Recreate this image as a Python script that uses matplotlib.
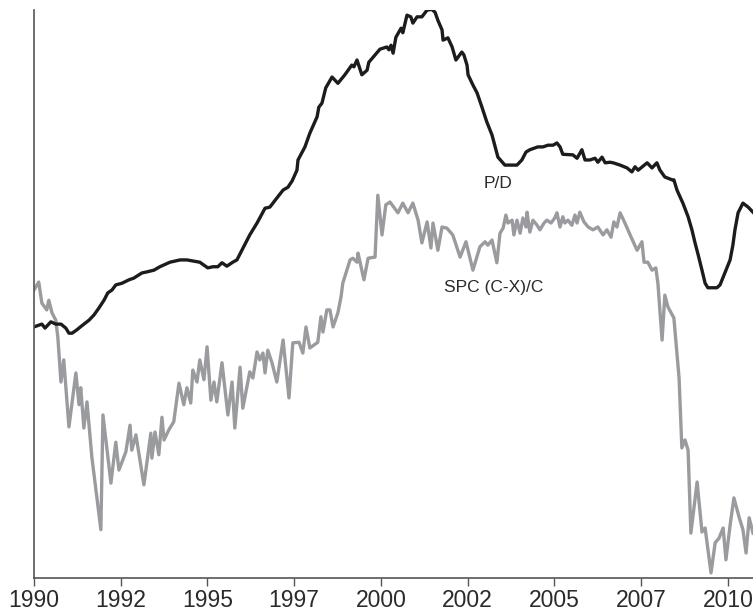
import numpy as np
import matplotlib
matplotlib.use("Agg")
import matplotlib.pyplot as plt

# P/D ratio (index)
pd_year = [1990.00, 1990.14, 1990.23, 1990.32, 1990.49, 1990.63, 1990.78, 1990.92, 1991.01, 1991.10,
           1991.24, 1991.38, 1991.59, 1991.73, 1991.87, 1992.02, 1992.13, 1992.25, 1992.36, 1992.54,
           1992.74, 1992.88, 1993.11, 1993.26, 1993.46, 1993.63, 1993.92, 1994.21, 1994.41, 1994.78,
           1995.01, 1995.16, 1995.30, 1995.42, 1995.56, 1995.73, 1995.85, 1996.22, 1996.43, 1996.66,
           1996.80, 1996.95, 1997.18, 1997.32, 1997.44, 1997.58, 1997.61, 1997.81, 1997.95, 1998.16,
           1998.21, 1998.30, 1998.41, 1998.59, 1998.76, 1998.96, 1999.16, 1999.22, 1999.31, 1999.45,
           1999.60, 1999.65, 1999.83, 1999.97, 2000.17, 2000.23, 2000.29, 2000.35, 2000.43, 2000.58,
           2000.63, 2000.75, 2000.86, 2000.92, 2001.04, 2001.18, 2001.33, 2001.47, 2001.56, 2001.64,
           2001.76, 2001.79, 2001.93, 2002.05, 2002.16, 2002.33, 2002.39, 2002.48, 2002.51, 2002.65,
           2002.77, 2002.91, 2003.05, 2003.20, 2003.29, 2003.37, 2003.57, 2003.72, 2003.92, 2004.06,
           2004.18, 2004.29, 2004.52, 2004.67, 2004.81, 2004.96, 2005.07, 2005.16, 2005.24, 2005.53,
           2005.65, 2005.79, 2005.88, 2006.02, 2006.17, 2006.25, 2006.37, 2006.46, 2006.60, 2006.69,
           2006.89, 2007.09, 2007.23, 2007.32, 2007.41, 2007.67, 2007.81, 2007.95, 2008.04, 2008.18,
           2008.39, 2008.44, 2008.53, 2008.70, 2008.85, 2008.96, 2009.05, 2009.14, 2009.25, 2009.34,
           2009.42, 2009.68, 2009.77, 2009.91, 2010.06, 2010.14, 2010.20, 2010.29, 2010.43, 2010.58,
           2010.72]
pd_value = [44.2, 44.5, 44.7, 44.0, 45.1, 44.7, 44.7, 44.0, 43.1, 43.1,
            43.7, 44.4, 45.4, 46.3, 47.5, 48.9, 50.2, 50.7, 51.6, 51.9,
            52.5, 52.8, 53.7, 53.9, 54.2, 54.8, 55.6, 56.0, 56.0, 55.6,
            54.6, 54.8, 54.8, 55.5, 54.9, 55.6, 56.0, 60.4, 62.5, 65.1,
            65.3, 66.5, 68.3, 68.8, 69.9, 71.8, 73.6, 75.9, 78.3, 81.2,
            82.9, 83.6, 86.3, 88.2, 87.1, 88.6, 90.3, 90.0, 91.2, 88.6,
            89.4, 90.8, 92.1, 93.1, 93.5, 93.0, 93.8, 92.4, 95.2, 96.8,
            96.0, 99.1, 98.8, 97.7, 98.8, 98.8, 100.0, 100.1, 99.6, 98.2,
            96.5, 94.7, 95.1, 93.5, 91.2, 92.6, 92.1, 90.3, 88.6, 86.8,
            85.4, 82.9, 80.3, 78.0, 75.9, 74.1, 72.7, 72.7, 72.7, 73.6,
            75.0, 75.4, 75.9, 75.9, 76.2, 76.2, 76.6, 75.9, 74.6, 74.5,
            73.9, 75.4, 73.6, 73.6, 73.9, 73.2, 74.1, 73.1, 73.2, 73.1,
            72.7, 72.2, 71.5, 72.4, 71.8, 73.1, 72.2, 73.1, 71.8, 70.6,
            70.1, 70.1, 68.3, 66.0, 63.6, 61.3, 59.0, 56.9, 54.2, 51.9,
            51.1, 51.1, 51.6, 53.7, 56.0, 58.6, 61.3, 64.3, 66.0, 65.3,
            64.4]

# SPC (C-X)/C (index)
spc_year = [1990.00, 1990.14, 1990.23, 1990.37, 1990.43, 1990.52, 1990.63, 1990.69, 1990.78, 1990.86,
            1991.01, 1991.21, 1991.30, 1991.35, 1991.44, 1991.53, 1991.67, 1991.93, 1991.99, 1992.22,
            1992.36, 1992.45, 1992.65, 1992.77, 1992.82, 1992.94, 1993.17, 1993.37, 1993.40, 1993.49,
            1993.60, 1993.69, 1993.75, 1993.89, 1994.03, 1994.18, 1994.32, 1994.41, 1994.52, 1994.58,
            1994.70, 1994.78, 1994.90, 1994.99, 1995.10, 1995.19, 1995.27, 1995.42, 1995.59, 1995.71,
            1995.79, 1995.94, 1996.02, 1996.22, 1996.31, 1996.43, 1996.51, 1996.60, 1996.66, 1996.74,
            1996.86, 1997.00, 1997.18, 1997.35, 1997.46, 1997.64, 1997.75, 1997.84, 1997.95, 1998.18,
            1998.27, 1998.33, 1998.44, 1998.53, 1998.62, 1998.76, 1998.85, 1998.90, 1999.05, 1999.11,
            1999.19, 1999.31, 1999.34, 1999.51, 1999.63, 1999.83, 1999.91, 2000.03, 2000.14, 2000.26,
            2000.49, 2000.63, 2000.78, 2000.92, 2001.07, 2001.18, 2001.33, 2001.44, 2001.50, 2001.64,
            2001.76, 2001.90, 2002.07, 2002.28, 2002.45, 2002.65, 2002.85, 2003.00, 2003.08, 2003.20,
            2003.34, 2003.43, 2003.52, 2003.60, 2003.66, 2003.78, 2003.83, 2003.92, 2004.01, 2004.09,
            2004.18, 2004.21, 2004.29, 2004.38, 2004.50, 2004.58, 2004.70, 2004.78, 2004.90, 2005.01,
            2005.07, 2005.16, 2005.24, 2005.30, 2005.39, 2005.50, 2005.59, 2005.65, 2005.73, 2005.85,
            2005.97, 2006.11, 2006.25, 2006.40, 2006.51, 2006.63, 2006.71, 2006.80, 2006.89, 2007.03,
            2007.18, 2007.38, 2007.52, 2007.58, 2007.69, 2007.81, 2007.92, 2007.98, 2008.10, 2008.18,
            2008.27, 2008.44, 2008.59, 2008.67, 2008.76, 2008.85, 2008.93, 2009.11, 2009.25, 2009.34,
            2009.51, 2009.63, 2009.74, 2009.86, 2009.94, 2010.06, 2010.17, 2010.32, 2010.43, 2010.52,
            2010.61, 2010.72]
spc_value = [50.7, 52.1, 48.4, 47.2, 48.9, 46.7, 45.4, 42.4, 34.5, 38.4,
             26.6, 36.1, 30.5, 33.5, 26.4, 31.0, 21.3, 8.5, 28.7, 16.7,
             23.9, 19.0, 22.2, 26.9, 22.5, 25.2, 16.4, 25.5, 21.1, 25.7,
             21.7, 28.3, 24.3, 26.1, 27.5, 34.3, 30.5, 33.5, 30.8, 36.6,
             34.5, 38.4, 34.9, 40.7, 31.3, 34.5, 31.0, 37.9, 28.7, 34.5,
             26.4, 37.1, 29.9, 36.3, 35.2, 39.8, 38.4, 39.6, 36.1, 40.1,
             37.9, 34.5, 41.9, 31.7, 41.4, 41.5, 39.6, 44.2, 40.5, 41.5,
             46.0, 43.3, 47.2, 47.2, 44.2, 46.7, 49.5, 51.9, 54.8, 56.0,
             56.3, 55.6, 57.2, 52.5, 56.3, 56.5, 67.4, 60.4, 65.7, 66.2,
             64.3, 66.0, 64.3, 66.0, 63.0, 59.0, 62.7, 58.1, 62.5, 57.7,
             61.8, 61.6, 60.4, 56.5, 59.2, 54.2, 58.3, 59.2, 58.6, 59.5,
             55.5, 60.7, 61.6, 63.9, 62.5, 63.0, 60.4, 63.0, 60.7, 63.4,
             61.8, 64.4, 60.9, 63.0, 62.1, 61.3, 62.5, 63.0, 62.5, 63.4,
             64.3, 61.8, 63.6, 62.5, 63.0, 62.1, 63.9, 62.5, 64.4, 62.7,
             61.8, 61.3, 61.8, 60.4, 61.3, 60.0, 62.7, 61.8, 64.3, 62.5,
             60.4, 57.7, 59.2, 55.6, 55.6, 54.2, 54.6, 51.9, 41.9, 49.8,
             47.7, 45.8, 35.2, 22.9, 24.3, 22.5, 7.9, 16.9, 8.1, 8.8,
             0.9, 6.2, 7.0, 8.8, 3.2, 9.3, 14.1, 10.7, 8.5, 4.4,
             10.6, 7.9]

tick_years = np.arange(1990, 2010.1, 2.5)
tick_labels = [str(int(t)) for t in tick_years]

fig = plt.figure(figsize=(7.53, 6.12), dpi=100)
ax = fig.add_axes([0.045, 0.0556, 0.955, 0.928])

ax.plot(spc_year, spc_value, color='#9a9b9f', linewidth=2.4)
ax.plot(pd_year, pd_value, color='#1c1c1c', linewidth=2.4)

ax.text(2003.37, 69.5, 'P/D', fontsize=12.5, color='#2a2a2a',
        ha='center', va='center', family='Liberation Sans')
ax.text(2003.26, 51.2, 'SPC (C-X)/C', fontsize=12.5, color='#2a2a2a',
        ha='center', va='center', family='Liberation Sans')

ax.set_xlim(1990, 2010.72)
ax.set_ylim(0, 100)

# Remove top and right spines
for s in ['top', 'right']:
    ax.spines[s].set_visible(False)
for s in ['left', 'bottom']:
    ax.spines[s].set_color('#555555')
    ax.spines[s].set_linewidth(1.2)

ax.set_yticks([])
ax.set_xticks(tick_years)
ax.set_xticklabels(tick_labels, fontsize=16.5, color='#2a2a2a', family='Liberation Sans')
ax.tick_params(axis='x', direction='out', length=6, width=1.0, color='#555555', pad=2)

fig.savefig('out.png', dpi=100)
